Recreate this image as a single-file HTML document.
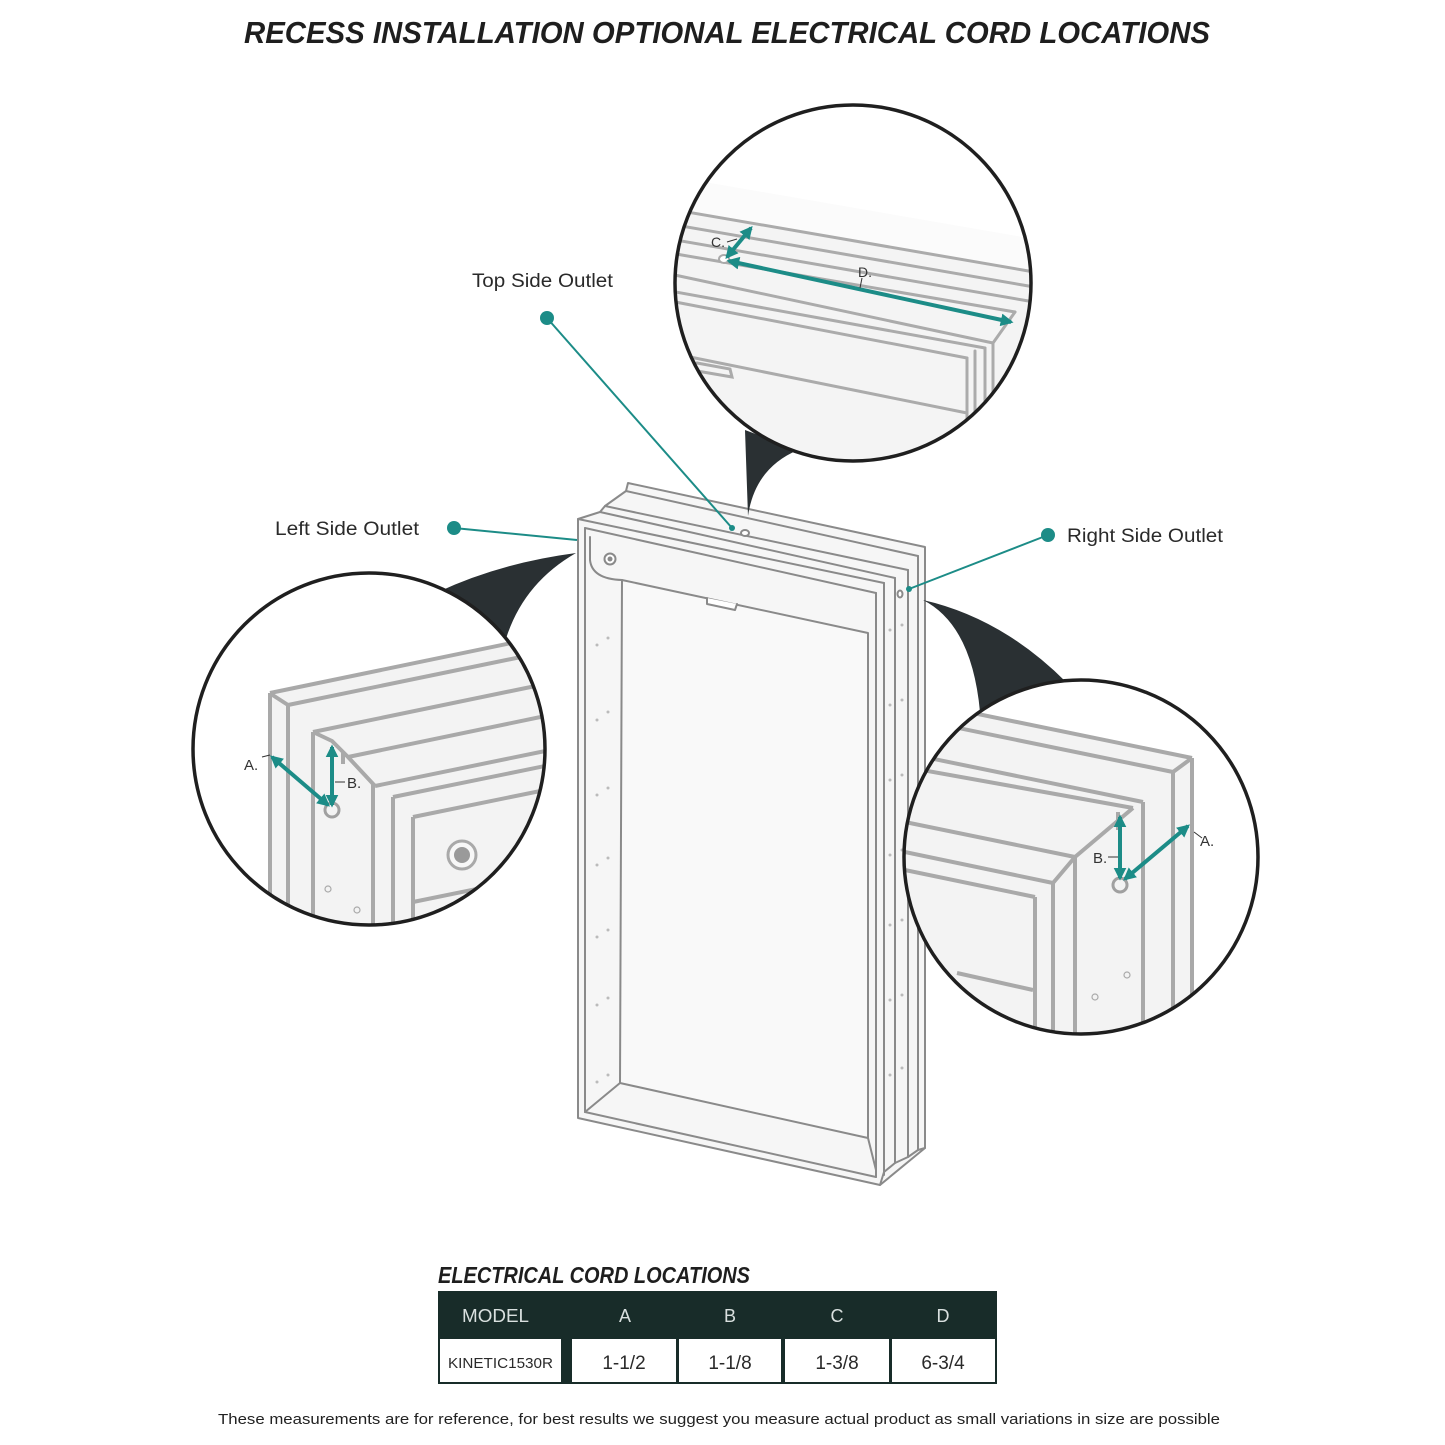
<!DOCTYPE html>
<html>
<head>
<meta charset="utf-8">
<style>
html,body{margin:0;padding:0;background:#fff;}
svg{display:block;}
text{font-family:"Liberation Sans",Arial,sans-serif;}
</style>
</head>
<body>
<svg width="1445" height="1445" viewBox="0 0 1445 1445" xmlns="http://www.w3.org/2000/svg">
<defs>
  <marker id="ah" viewBox="0 0 10 10" refX="8" refY="5" markerWidth="3.2" markerHeight="3.2" orient="auto-start-reverse">
    <path d="M0,0 L10,5 L0,10 Z" fill="#1c8c87"/>
  </marker>
  <clipPath id="cTop"><circle cx="853" cy="283" r="178"/></clipPath>
  <clipPath id="cLeft"><circle cx="369" cy="749" r="176"/></clipPath>
  <clipPath id="cRight"><circle cx="1081" cy="857" r="177"/></clipPath>
</defs>

<!-- Title -->
<text x="244" y="43" font-size="31" font-weight="bold" font-style="italic" fill="#1e1e1e" textLength="966" lengthAdjust="spacingAndGlyphs">RECESS INSTALLATION OPTIONAL ELECTRICAL CORD LOCATIONS</text>

<!-- ================= CABINET ================= -->
<g stroke="#8a8a8a" stroke-width="2" stroke-linejoin="round" stroke-linecap="round">
  <polygon points="628,483 925,547 925,1148 880,1185 578,1118 578,519 600,512 605,506 626,491" fill="#f6f6f6"/>
  <!-- top layer lines -->
  <line x1="626" y1="491" x2="918" y2="556"/>
  <line x1="605" y1="506" x2="908" y2="570"/>
  <line x1="600" y1="512" x2="895" y2="578"/>
  <line x1="578" y1="519" x2="884" y2="583"/>
  <line x1="585" y1="528" x2="876" y2="593"/>
  <!-- right verticals -->
  <line x1="918" y1="556" x2="918" y2="1150"/>
  <line x1="908" y1="570" x2="908" y2="1157"/>
  <line x1="895" y1="578" x2="895" y2="1163"/>
  <line x1="884" y1="583" x2="884" y2="1175"/>
  <line x1="876" y1="593" x2="876" y2="1177"/>
  <polyline points="925,1148 918,1150 908,1157 895,1163 884,1172 880,1185" fill="none"/>
  <!-- left inner -->
  <line x1="585" y1="528" x2="585" y2="1112"/>
  <line x1="585" y1="1112" x2="876" y2="1177"/>
  <!-- cavity -->
  <polygon points="622,580 868,633 868,1138 620,1083" fill="#f9f9f9"/>
  <line x1="585" y1="1112" x2="620" y2="1083"/>
  <line x1="868" y1="1138" x2="876" y2="1170"/>
  <!-- header panel -->
  <path d="M590,537 L590,560 Q592,579 622,580" fill="none"/>
  <path d="M707,598 L707,604 L735,610 L737,604" fill="#fff"/>
  <circle cx="610" cy="559" r="5.5" fill="#fff"/>
  <circle cx="610" cy="559" r="2.5" fill="#8a8a8a" stroke="none"/>
  <!-- holes -->
  <ellipse cx="745" cy="533" rx="4" ry="3" fill="#fff"/>
  <ellipse cx="900" cy="594" rx="2.5" ry="3.5" fill="#fff"/>
</g>
<!-- tiny screw dots -->
<g fill="#bbb">
  <circle cx="597" cy="645" r="1.5"/><circle cx="608" cy="638" r="1.5"/>
  <circle cx="597" cy="720" r="1.5"/><circle cx="608" cy="712" r="1.5"/>
  <circle cx="597" cy="795" r="1.5"/><circle cx="608" cy="788" r="1.5"/>
  <circle cx="597" cy="865" r="1.5"/><circle cx="608" cy="858" r="1.5"/>
  <circle cx="597" cy="937" r="1.5"/><circle cx="608" cy="930" r="1.5"/>
  <circle cx="597" cy="1005" r="1.5"/><circle cx="608" cy="998" r="1.5"/>
  <circle cx="597" cy="1082" r="1.5"/><circle cx="608" cy="1075" r="1.5"/>
  <circle cx="890" cy="630" r="1.5"/><circle cx="902" cy="625" r="1.5"/>
  <circle cx="890" cy="705" r="1.5"/><circle cx="902" cy="700" r="1.5"/>
  <circle cx="890" cy="780" r="1.5"/><circle cx="902" cy="775" r="1.5"/>
  <circle cx="890" cy="855" r="1.5"/><circle cx="902" cy="850" r="1.5"/>
  <circle cx="890" cy="925" r="1.5"/><circle cx="902" cy="920" r="1.5"/>
  <circle cx="890" cy="1000" r="1.5"/><circle cx="902" cy="995" r="1.5"/>
  <circle cx="890" cy="1075" r="1.5"/><circle cx="902" cy="1068" r="1.5"/>
</g>

<!-- ================= LEADERS ================= -->
<g stroke="#1c8c87" stroke-width="2" fill="#1c8c87">
  <line x1="547" y1="318" x2="732" y2="528"/>
  <circle cx="547" cy="318" r="7" stroke="none"/>
  <circle cx="732" cy="528" r="3" stroke="none"/>
  <line x1="454" y1="528" x2="577" y2="540"/>
  <circle cx="454" cy="528" r="7" stroke="none"/>
  <line x1="1048" y1="535" x2="909" y2="589"/>
  <circle cx="1048" cy="535" r="7" stroke="none"/>
  <circle cx="909" cy="589" r="3" stroke="none"/>
</g>
<text x="472" y="287" font-size="19" fill="#2a2a2a" textLength="141" lengthAdjust="spacingAndGlyphs">Top Side Outlet</text>
<text x="275" y="535" font-size="19" fill="#2a2a2a" textLength="144" lengthAdjust="spacingAndGlyphs">Left Side Outlet</text>
<text x="1067" y="542" font-size="19" fill="#2a2a2a" textLength="156" lengthAdjust="spacingAndGlyphs">Right Side Outlet</text>

<!-- ================= WEDGES ================= -->
<g fill="#2a3033">
  <path d="M745,430 L748,516 Q755,468 798,450 Z"/>
  <path d="M576,553 Q500,563 438,592 L505,642 Q522,584 576,553 Z"/>
  <path d="M923,600 Q972,625 980,712 L1066,682 Q1002,618 923,600 Z"/>
</g>

<!-- ================= TOP CIRCLE ================= -->
<circle cx="853" cy="283" r="178" fill="#fff"/>
<g clip-path="url(#cTop)">
  <polygon points="670,209 1040,273 1040,470 670,470" fill="#f4f4f4"/>
  <polygon points="670,209 1040,273 1040,240 670,176" fill="#fbfbfb"/>
  <g stroke="#ababab" stroke-width="3" fill="none" stroke-linecap="round">
    <line x1="670" y1="209" x2="1040" y2="273"/>
    <line x1="670" y1="224" x2="1040" y2="288"/>
    <line x1="670" y1="239" x2="1040" y2="303"/>
    <line x1="670" y1="253" x2="1015" y2="312"/>
    <line x1="670" y1="274" x2="993" y2="343"/>
    <line x1="670" y1="291" x2="985" y2="348"/>
    <line x1="670" y1="301" x2="967" y2="358"/>
    <line x1="1015" y1="312" x2="993" y2="343"/>
    <line x1="993" y1="343" x2="993" y2="470"/>
    <line x1="985" y1="348" x2="985" y2="470"/>
    <line x1="975" y1="351" x2="975" y2="470"/>
    <line x1="967" y1="358" x2="967" y2="470"/>
    <line x1="690" y1="357" x2="967" y2="413"/>
    <path d="M697,363 L730,369 L732,377 L697,371"/>
  </g>
  <ellipse cx="724" cy="259" rx="5" ry="4" fill="#fff" stroke="#aaa" stroke-width="2"/>
  <g stroke="#1c8c87" stroke-width="4" fill="none">
    <line x1="727" y1="257" x2="751" y2="228" marker-start="url(#ah)" marker-end="url(#ah)"/>
    <line x1="729" y1="261" x2="1011" y2="322" marker-start="url(#ah)" marker-end="url(#ah)"/>
  </g>
  <line x1="727" y1="242" x2="737" y2="239" stroke="#333" stroke-width="1"/>
  <line x1="862" y1="278" x2="860" y2="288" stroke="#333" stroke-width="1"/>
  <text x="711" y="247" font-size="14" fill="#333">C.</text>
  <text x="858" y="277" font-size="14" fill="#333">D.</text>
</g>
<circle cx="853" cy="283" r="178" fill="none" stroke="#1f1f1f" stroke-width="3.5"/>

<!-- ================= LEFT CIRCLE ================= -->
<circle cx="369" cy="749" r="176" fill="#fff"/>
<g clip-path="url(#cLeft)">
  <polygon points="270,693 550,635 550,935 270,935" fill="#f3f3f3"/>
  <g stroke="#a9a9a9" stroke-width="4" fill="none" stroke-linejoin="round">
    <line x1="270" y1="693" x2="270" y2="935"/>
    <line x1="270" y1="693" x2="550" y2="635"/>
    <line x1="271" y1="694" x2="288" y2="705"/>
    <line x1="288" y1="705" x2="550" y2="651"/>
    <line x1="288" y1="705" x2="288" y2="935"/>
    <line x1="313" y1="732" x2="550" y2="683"/>
    <line x1="313" y1="732" x2="313" y2="935"/>
    <polyline points="313,732 332,741 348,757 375,786"/>
    <line x1="348" y1="757" x2="550" y2="715"/>
    <line x1="375" y1="786" x2="550" y2="750"/>
    <line x1="373" y1="784" x2="373" y2="935"/>
    <line x1="393" y1="797" x2="550" y2="765"/>
    <line x1="393" y1="797" x2="393" y2="935"/>
    <line x1="413" y1="817" x2="550" y2="789"/>
    <line x1="413" y1="817" x2="413" y2="935"/>
    <line x1="413" y1="902" x2="550" y2="874"/>
    <path d="M343,753 L343,764"/>
  </g>
  <circle cx="462" cy="855" r="14" fill="#f7f7f7" stroke="#a9a9a9" stroke-width="3"/>
  <circle cx="462" cy="855" r="8" fill="#9a9a9a"/>
  <circle cx="332" cy="810" r="7" fill="#f3f3f3" stroke="#a0a0a0" stroke-width="3"/>
  <circle cx="328" cy="889" r="3" fill="none" stroke="#aaa" stroke-width="1.2"/>
  <circle cx="357" cy="910" r="3" fill="none" stroke="#aaa" stroke-width="1.2"/>
  <g stroke="#1c8c87" stroke-width="4" fill="none">
    <line x1="272" y1="757" x2="328" y2="805" marker-start="url(#ah)" marker-end="url(#ah)"/>
    <line x1="332" y1="747" x2="332" y2="805" marker-start="url(#ah)" marker-end="url(#ah)"/>
  </g>
  <line x1="262" y1="757" x2="270" y2="755" stroke="#333" stroke-width="1"/>
  <line x1="335" y1="782" x2="345" y2="782" stroke="#333" stroke-width="1"/>
  <text x="244" y="770" font-size="15" fill="#333">A.</text>
  <text x="347" y="788" font-size="15" fill="#333">B.</text>
</g>
<circle cx="369" cy="749" r="176" fill="none" stroke="#1f1f1f" stroke-width="3.5"/>

<!-- ================= RIGHT CIRCLE ================= -->
<circle cx="1081" cy="857" r="177" fill="#fff"/>
<g clip-path="url(#cRight)">
  <polygon points="1192,758 900,698 900,1040 1192,1040" fill="#f3f3f3"/>
  <g stroke="#a9a9a9" stroke-width="4" fill="none" stroke-linejoin="round">
    <line x1="1192" y1="758" x2="1192" y2="1040"/>
    <line x1="1192" y1="758" x2="900" y2="698"/>
    <line x1="1192" y1="758" x2="1173" y2="772"/>
    <line x1="1173" y1="772" x2="1173" y2="1040"/>
    <line x1="1173" y1="772" x2="900" y2="716"/>
    <line x1="1143" y1="802" x2="900" y2="752"/>
    <line x1="1143" y1="802" x2="1143" y2="1040"/>
    <line x1="1133" y1="808" x2="900" y2="766"/>
    <line x1="1133" y1="808" x2="1075" y2="857"/>
    <line x1="1075" y1="857" x2="900" y2="821"/>
    <line x1="1075" y1="857" x2="1075" y2="1040"/>
    <line x1="1075" y1="857" x2="1053" y2="883"/>
    <line x1="1053" y1="883" x2="900" y2="851"/>
    <line x1="1053" y1="883" x2="1053" y2="1040"/>
    <line x1="1035" y1="897" x2="900" y2="869"/>
    <line x1="1035" y1="897" x2="1035" y2="1040"/>
    <line x1="957" y1="973" x2="1033" y2="990"/>
    <path d="M1118,812 L1118,830"/>
  </g>
  <circle cx="1120" cy="885" r="7" fill="#f3f3f3" stroke="#a0a0a0" stroke-width="3"/>
  <circle cx="1127" cy="975" r="3" fill="none" stroke="#aaa" stroke-width="1.2"/>
  <circle cx="1095" cy="997" r="3" fill="none" stroke="#aaa" stroke-width="1.2"/>
  <g stroke="#1c8c87" stroke-width="4" fill="none">
    <line x1="1120" y1="878" x2="1120" y2="817" marker-start="url(#ah)" marker-end="url(#ah)"/>
    <line x1="1125" y1="879" x2="1188" y2="826" marker-start="url(#ah)" marker-end="url(#ah)"/>
  </g>
  <line x1="1108" y1="857" x2="1118" y2="857" stroke="#333" stroke-width="1"/>
  <line x1="1194" y1="832" x2="1202" y2="838" stroke="#333" stroke-width="1"/>
  <text x="1093" y="863" font-size="15" fill="#333">B.</text>
  <text x="1200" y="846" font-size="15" fill="#333">A.</text>
</g>
<circle cx="1081" cy="857" r="177" fill="none" stroke="#1f1f1f" stroke-width="3.5"/>

<!-- ================= TABLE ================= -->
<text x="438" y="1283" font-size="23" font-weight="bold" font-style="italic" fill="#1e1e1e" textLength="312" lengthAdjust="spacingAndGlyphs">ELECTRICAL CORD LOCATIONS</text>
<rect x="438" y="1291" width="559" height="93" fill="#182c29"/>
<g fill="#fff">
  <rect x="440" y="1339" width="121" height="43"/>
  <rect x="572" y="1339" width="104" height="43"/>
  <rect x="679" y="1339" width="102" height="43"/>
  <rect x="785" y="1339" width="104" height="43"/>
  <rect x="892" y="1339" width="103" height="43"/>
</g>
<g fill="#d9e0df" font-size="18">
  <text x="462" y="1322" textLength="67" lengthAdjust="spacingAndGlyphs">MODEL</text>
  <text x="625" y="1322" text-anchor="middle">A</text>
  <text x="730" y="1322" text-anchor="middle">B</text>
  <text x="837" y="1322" text-anchor="middle">C</text>
  <text x="943" y="1322" text-anchor="middle">D</text>
</g>
<text x="448" y="1368" font-size="15" fill="#2a2a2a" textLength="105" lengthAdjust="spacingAndGlyphs">KINETIC1530R</text>
<g fill="#2a2a2a" font-size="19" text-anchor="middle">
  <text x="624" y="1369">1-1/2</text>
  <text x="730" y="1369">1-1/8</text>
  <text x="837" y="1369">1-3/8</text>
  <text x="943" y="1369">6-3/4</text>
</g>

<!-- Footnote -->
<text x="218" y="1424" font-size="15" fill="#222" textLength="1002" lengthAdjust="spacingAndGlyphs">These measurements are for reference, for best results we suggest you measure actual product as small variations in size are possible</text>
</svg>
</body>
</html>
